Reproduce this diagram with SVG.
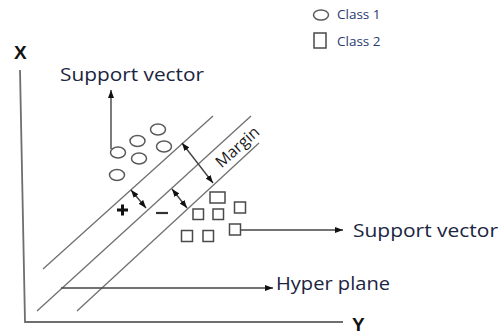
<svg xmlns="http://www.w3.org/2000/svg" width="499" height="332" viewBox="0 0 499 332">
  <style>
    .lbl { font-family: "Open Sans", "Liberation Sans", sans-serif; fill: #1b2440; }
    .axl { font-family: "Liberation Sans", Arial, sans-serif; font-weight: bold; fill: #111; font-size: 19px; }
    .axis { stroke: #6e6e6e; stroke-width: 1.8; fill: none; }
    .plane { stroke: #707070; stroke-width: 1.3; fill: none; }
    .c1 { fill: #fff; stroke: #5a5a5a; stroke-width: 1.5; }
    .c2 { fill: #fff; stroke: #4a4a4a; stroke-width: 1.5; }
    .conn { stroke: #444; stroke-width: 1.4; fill: none; }
  </style>
  <defs>
    <marker id="ah" viewBox="0 0 8 6" refX="8" refY="3" markerWidth="8" markerHeight="6" markerUnits="userSpaceOnUse" orient="auto-start-reverse">
      <path d="M0,0 L8,3 L0,6 z" fill="#111"/>
    </marker>
  </defs>
  <rect width="499" height="332" fill="#fff"/>

  <g id="axes">
    <path class="axis" d="M20,70 L25,322 L343,322"/>
    <text class="axl" x="14" y="59">X</text>
    <text class="axl" x="352" y="331">Y</text>
  </g>

  <g id="planes">
    <line class="plane" x1="43" y1="269" x2="213" y2="116"/>
    <line class="plane" x1="37" y1="311" x2="251" y2="116"/>
    <line class="plane" x1="77" y1="311" x2="259" y2="143"/>
  </g>

  <g id="class1-points">
    <ellipse class="c1" cx="118" cy="152.5" rx="7.5" ry="5.5"/>
    <ellipse class="c1" cx="137.5" cy="141" rx="7.5" ry="5.5"/>
    <ellipse class="c1" cx="158" cy="129.5" rx="7.5" ry="5.5"/>
    <ellipse class="c1" cx="139" cy="158.5" rx="7.5" ry="5.5"/>
    <ellipse class="c1" cx="164" cy="146.5" rx="7.5" ry="5.5"/>
    <ellipse class="c1" cx="117" cy="175" rx="7.5" ry="5.5"/>
  </g>

  <g id="class2-points">
    <rect class="c2" x="210" y="192" width="15" height="11"/>
    <rect class="c2" x="193" y="209" width="10.5" height="10.5"/>
    <rect class="c2" x="213" y="209" width="10.5" height="10.5"/>
    <rect class="c2" x="234.5" y="202" width="11" height="11"/>
    <rect class="c2" x="181.5" y="230.5" width="11" height="11"/>
    <rect class="c2" x="203" y="230.5" width="10.5" height="11"/>
    <rect class="c2" x="229.5" y="224" width="11" height="11"/>
  </g>

  <g id="signs">
    <path d="M117,210 H128 M122.5,204.5 V215.5" stroke="#111" stroke-width="3" fill="none"/>
    <line x1="156" y1="213" x2="168" y2="213" stroke="#333" stroke-width="2.2"/>
  </g>

  <g id="connectors">
    <line class="conn" x1="111" y1="149" x2="111" y2="90" marker-end="url(#ah)"/>
    <line class="conn" x1="241" y1="230" x2="343" y2="230" marker-end="url(#ah)"/>
    <line class="conn" x1="61" y1="288" x2="273" y2="288" marker-end="url(#ah)"/>
    <line class="conn" x1="182" y1="143" x2="213" y2="183" marker-start="url(#ah)" marker-end="url(#ah)"/>
    <line class="conn" x1="131" y1="190" x2="146" y2="208" marker-start="url(#ah)" marker-end="url(#ah)"/>
    <line class="conn" x1="172" y1="189" x2="187" y2="208" marker-start="url(#ah)" marker-end="url(#ah)"/>
  </g>

  <g id="labels">
    <text class="lbl" x="60" y="81" font-size="19" textLength="144" lengthAdjust="spacingAndGlyphs">Support vector</text>
    <text class="lbl" x="353" y="237" font-size="19" textLength="145" lengthAdjust="spacingAndGlyphs">Support vector</text>
    <text class="lbl" x="276" y="290" font-size="19" textLength="114" lengthAdjust="spacingAndGlyphs">Hyper plane</text>
    <text class="lbl" x="241" y="151" font-size="16" text-anchor="middle" transform="rotate(-42 241 151)" style="fill:#1a1a1a">Margin</text>
  </g>

  <g id="legend">
    <ellipse class="c1" cx="321" cy="15" rx="7.5" ry="5"/>
    <text class="lbl" x="337" y="19" font-size="13.5" style="fill:#2a3a70">Class 1</text>
    <rect class="c2" x="314" y="33" width="12" height="15"/>
    <text class="lbl" x="337" y="46" font-size="13.5" style="fill:#2a3a70">Class 2</text>
  </g>
</svg>
